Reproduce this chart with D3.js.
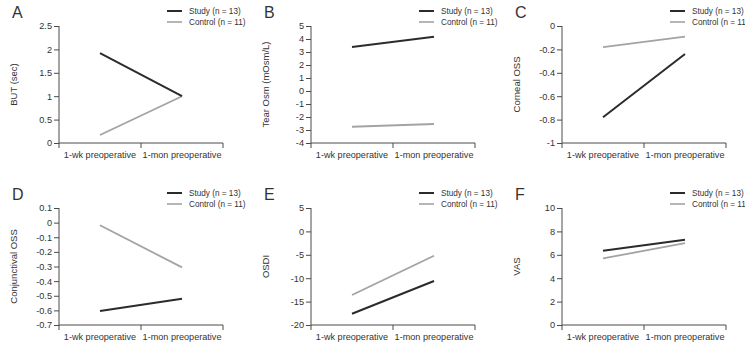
<!DOCTYPE html>
<html><head><meta charset="utf-8">
<script src="https://cdn.jsdelivr.net/npm/d3@7"></script>
<style>
html,body{margin:0;padding:0;background:#fff;}
text{font-family:"Liberation Sans",Arial,sans-serif;fill:#333;}
</style></head>
<body>
<svg id="chart" width="745" height="344"></svg>
<script>
const categories = ["1-wk preoperative", "1-mon preoperative"];
const seriesNames = ["Study (n = 13)", "Control (n = 11)"];
const panelLetters = ["A", "B", "C", "D", "E", "F"];
const yLabels = ["BUT (sec)", "Tear Osm (mOsm/L)", "Corneal OSS", "Conjunctival OSS", "OSDI", "VAS"];
const yDomains = [[0, 2.5], [-4, 5], [-1, 0], [-0.7, 0.1], [-20, 5], [0, 10]];
const yTicks = [
  [0, 0.5, 1, 1.5, 2, 2.5],
  [-4, -3, -2, -1, 0, 1, 2, 3, 4, 5],
  [-1, -0.8, -0.6, -0.4, -0.2, 0],
  [-0.7, -0.6, -0.5, -0.4, -0.3, -0.2, -0.1, 0, 0.1],
  [-20, -15, -10, -5, 0, 5],
  [0, 2, 4, 6, 8, 10]
];
const studyValues = [[1.92, 1.0], [3.38, 4.18], [-0.78, -0.24], [-0.605, -0.52], [-17.6, -10.6], [6.34, 7.29]];
const controlValues = [[0.17, 1.0], [-2.75, -2.54], [-0.18, -0.09], [-0.018, -0.306], [-13.6, -5.2], [5.69, 7.0]];

const colors = {study: "#2b2b2b", control: "#a3a3a3", axis: "#4a4a4a"};
const svg = d3.select("#chart");

const colX = [59, 311, 562];
const rowY = [26, 208];
const plotW = 164, plotH = 117;

function fmt(v){ return String(+v.toFixed(2)); }

panelLetters.forEach((letter, i) => {
  const x0 = colX[i % 3], y0 = rowY[Math.floor(i / 3)];
  const g = svg.append("g").attr("transform", `translate(${x0},${y0})`);
  const x = d3.scaleBand().domain(categories).range([0, plotW]).padding(0);
  const y = d3.scaleLinear().domain(yDomains[i]).range([plotH, 0]);

  // y axis
  const ya = g.append("g").call(d3.axisLeft(y).tickValues(yTicks[i]).tickSize(5).tickPadding(2).tickFormat(fmt));
  ya.select(".domain").attr("stroke", colors.axis).attr("d", `M0,0V${plotH}`);
  ya.selectAll(".tick line").attr("stroke", colors.axis);
  ya.selectAll("text").attr("font-size", 9.2).attr("fill", "#333").attr("font-family", "Liberation Sans, Arial, sans-serif");

  // x axis
  const xa = g.append("g").attr("transform", `translate(0,${plotH})`)
    .call(d3.axisBottom(x).tickSize(0).tickPadding(9));
  xa.select(".domain").attr("stroke", colors.axis).attr("d", `M0,0H${plotW}`);
  xa.selectAll("text").attr("font-size", 9.1).attr("fill", "#333").attr("font-family", "Liberation Sans, Arial, sans-serif");
  const bounds = [0, x.step(), 2 * x.step()];
  xa.selectAll("line.bt").data(bounds).join("line").attr("class", "bt")
    .attr("x1", d => d).attr("x2", d => d).attr("y1", 0).attr("y2", 5)
    .attr("stroke", colors.axis);

  const line = d3.line().x((d, j) => x(categories[j]) + x.bandwidth() / 2).y(d => y(d));
  g.append("path").datum(controlValues[i]).attr("d", line).attr("fill", "none")
    .attr("stroke", colors.control).attr("stroke-width", 1.8);
  g.append("path").datum(studyValues[i]).attr("d", line).attr("fill", "none")
    .attr("stroke", colors.study).attr("stroke-width", 2);

  // panel letter
  g.append("text").attr("x", -47).attr("y", -8).attr("font-size", 16).text(letter);

  // y label
  g.append("text").attr("transform", `translate(-42,${plotH / 2}) rotate(-90)`)
    .attr("text-anchor", "middle").attr("font-size", 9.5).text(yLabels[i]);

  // legend
  const legColors = [colors.study, colors.control];
  seriesNames.forEach((s, k) => {
    const ly = -15 + k * 11;
    g.append("line").attr("x1", 108).attr("x2", 123).attr("y1", ly).attr("y2", ly)
      .attr("stroke", legColors[k]).attr("stroke-width", k === 0 ? 2 : 1.6);
    g.append("text").attr("x", 130).attr("y", ly + 3).attr("font-size", 8.2).text(s);
  });
});
</script>
</body></html>
